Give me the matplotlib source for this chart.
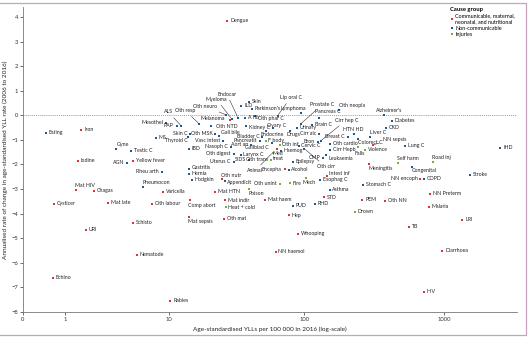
import numpy as np
import matplotlib.pyplot as plt
from matplotlib.lines import Line2D
from matplotlib.patches import Rectangle

plt.rcParams['font.family'] = ['Lato', 'DejaVu Sans']

# Communicable, maternal, neonatal, and nutritional
comm_names = ['Dengue', 'Iron', 'Iodine', 'Yellow fever', 'Mat HIV', 'Chagas', 'Varicella',
              'Cysticer', 'Mat late', 'Oth labour', 'Schisto', 'URI', 'Nematode', 'Echino',
              'Rabies', 'Whooping', 'NN haemol', 'TB', 'Diarrhoea', 'HIV', 'LRI', 'NN sepsis',
              'Meningitis', 'NN encoph', 'NN Preterm', 'PEM', 'Oth NN', 'Malaria', 'Oth NTD',
              'Oth inf', 'Encepha', 'Oth nutr', 'Mat HTN', 'Mat indir', 'Comp abort',
              'Mat sepsis', 'Oth mat', 'Mat haem', 'Hep', 'STD', 'Intest inf']
comm_yll = [27.5, 1.6, 1.45, 5.1, 1.4, 2.2, 9.0,
            0.66, 3.05, 7.3, 5.1, 1.8, 5.5, 0.64,
            10.2, 90, 62, 560, 970, 720, 1345, 310,
            290, 675, 795, 260, 378, 780, 28.6,
            63, 72, 25.3, 22.5, 26.4, 14.4,
            14.3, 26, 52, 77, 139, 145]
comm_change = [3.84, -0.59, -1.85, -1.85, -3.03, -3.07, -3.1,
               -3.6, -3.56, -3.6, -4.37, -4.65, -5.67, -6.6,
               -7.54, -4.82, -5.55, -4.53, -5.5, -7.17, -4.25, -1.2,
               -2.0, -2.58, -3.19, -3.43, -3.48, -3.72, -0.2,
               -1.36, -2.19, -2.6, -3.1, -3.46, -3.46,
               -4.14, -4.2, -3.43, -4.07, -3.33, -2.46]

# Non-communicable
ncd_names = ['Eating', 'Gyne', 'Testic C', 'AGN', 'Rheu arth', 'Pneumocon', 'Mesothel', 'MS',
             'PAP', 'ALS', 'Oth resp', 'Skin C', 'Thyroid C', 'IBD', 'Oth MSK', 'Gall bile',
             'Vasc intest', 'Melanoma', 'Oth neuro', 'Myeloma', 'Endocar', 'ILD', 'Skin',
             "Parkinson's", 'A fib', 'Oth phar C', 'Kidney C', 'Lip oral C', 'Lymphoma',
             'Ovary C', 'Endocrine', 'Bladder C', 'Pancreatit', 'Aort an', 'Nasoph C',
             'Gallblad C', 'Oth digest', 'Larynx C', 'Uterus C', 'SIDS', 'Haemog', 'Bron',
             'Cervic C', 'CMP', 'Oth cirr', 'Leukaemia', 'Cirr Hepb', 'Oth cardio',
             'Cirr hep C', 'Cirr alc', 'Breast C', 'HTN HD', 'Liver C', 'Colorect C',
             'Diabetes', 'CKD', "Alzheimer's", 'Lung C', 'IHD', 'Stroke', 'COPD',
             'Congenital', 'Stomach C', 'Asthma', 'RHD', 'PUD', 'Esophag C', 'Epilepsy',
             'Alcohol', 'Oth neopla', 'Prostate C', 'Urinary', 'Pancreas C', 'Brain C',
             'Drugs', 'Appendicit', 'Gastritis', 'Hernia', 'Hodgkin']
ncd_yll = [0.46, 3.6, 4.9, 4.5, 8.7, 6.2, 9.5, 7.8,
           11.4, 12.4, 17, 14.6, 14, 14.1, 22.5, 24,
           25.8, 21, 27, 29.6, 33, 35, 40,
           41.5, 37, 44, 38, 64, 94,
           59, 52.5, 49, 47.5, 40.8, 29.1,
           58, 30.6, 34.5, 30.6, 39.5, 67.5, 125,
           91, 136, 100, 143, 153, 153,
           131, 127, 205, 226, 295, 242,
           424, 384, 372, 525, 2510, 1534, 720,
           590, 263, 152, 119, 82.5, 129, 82.5,
           77, 177, 94, 88, 127, 113,
           78.4, 26.3, 14.3, 14.1, 15]
ncd_change = [-0.71, -1.36, -1.44, -1.93, -2.3, -2.9, -0.3, -0.91,
              -0.43, -0.43, -0.35, -0.75, -0.87, -1.36, -0.75, -0.83,
              -1.04, -0.43, 0.02, -0.14, -0.1, 0.39, 0.55,
              0.26, -0.1, -0.02, -0.43, -0.02, 0.1,
              -0.51, -0.63, -0.87, -1.04, -1.2, -1.28,
              -1.12, -1.56, -1.6, -1.89, -1.81, -1.44, -1.08,
              -1.24, -1.73, -1.36, -1.61, -1.4, -1.16,
              -1.04, -0.75, -0.87, -0.75, -0.87, -0.96,
              -0.22, -0.51, 0.02, -1.24, -1.32, -2.42, -2.58,
              -2.09, -2.83, -3.03, -3.6, -3.68, -2.62, -1.89,
              -2.22, 0.22, -0.35, -0.51, -0.1, -0.39,
              -0.63, -2.66, -2.19, -2.38, -2.62]

# Injuries
inj_names = ['Violence', 'Falls', 'Self harm', 'Road inj', 'Drown', 'Animal', 'Med treat',
             'F body', 'Fire', 'Mech', 'Oth unint', 'Poison', 'Heat + cold', 'Oth trans']
inj_yll = [272, 243, 468, 834, 230, 59, 66.4, 52.5, 79, 103, 66.4, 39.7, 26.7, 57]
inj_change = [-1.4, -1.28, -1.93, -1.89, -3.92, -1.52, -1.2, -1.04, -2.76, -2.55, -2.78,
              -2.99, -3.73, -1.81]

x_ticks = [0, 1, 10, 100, 1000]
y_ticks = list(range(-8, 5))

# label placement: (dx, dy in points, ha, leader line)
L = (-2, 0, 'right', False)
place = {
    'Gyne': (0.5, 3, 'left', False), 'Mat HIV': (-1, 3, 'left', False),
    'Pneumocon': (-0.5, 3, 'left', False), 'AGN': L, 'Rheu arth': L, 'Mesothel': L, 'PAP': L,
    'ALS': (-6, 10, 'right', True), 'Oth resp': (-10, 9.5, 'center', True),
    'Oth neuro': (-6.5, 6, 'right', True), 'Myeloma': (-3, 14, 'right', True),
    'Endocar': (-8, 17, 'center', True), 'Melanoma': (1, 5.5, 'center', False),
    'Oth NTD': (-2, -4.3, 'center', False), 'Skin C': L, 'Thyroid C': (0, -2.5, 'right', False),
    'Oth MSK': L, 'Vasc intest': L, 'Oth phar C': (2, -2.3, 'left', False),
    'Kidney C': (2, -1, 'left', False), 'Gall bile': (1.5, 2.5, 'left', False),
    'Lip oral C': (1.5, 13, 'left', True), 'Lymphoma': (-5.5, 3, 'center', False),
    'Prostate C': (7, 14, 'left', True), 'Pancreas C': (-3, 4.5, 'left', False),
    'Oth neopla': (0, 3, 'left', False), 'Drugs': (2.5, -3, 'center', False),
    'Ovary C': (3, 1.8, 'center', False), 'Endocrine': (5, -2.8, 'center', False),
    'Bladder C': (-1.2, 0, 'right', False), 'Pancreatit': L, 'Aort an': L, 'Nasoph C': L,
    'Gallblad C': (-2, -3.6, 'right', False), 'Oth inf': (4, 3, 'left', False),
    'Med treat': (-1, -8, 'center', False), 'Animal': (-7, -13, 'right', True),
    'Oth digest': L, 'Uterus C': L, 'SIDS': L, 'Oth trans': L, 'Bron': L, 'CMP': L,
    'Oth cirr': (9, -13, 'left', True), 'Cirr alc': L, 'Cirr hep C': (10, 15, 'left', True),
    'Breast C': L, 'HTN HD': (0, 3.2, 'center', False), 'Cirr Hepb': (2, 0, 'left', False),
    'Leukaemia': (2, -2.5, 'left', False),
    'Liver C': (0, 3, 'left', False), 'Colorect C': (0, -2.5, 'left', False),
    'NN sepsis': (7, 4, 'left', True), 'Falls': (1, -4.5, 'center', False),
    "Alzheimer's": (4, 3, 'center', False), 'NN encoph': L,
    'Congenital': (0, -3, 'left', False), 'Meningitis': (0, -3, 'left', False),
    'Self harm': (-1, 3, 'left', False), 'Road inj': (-1, 3, 'left', False),
    'Encepha': L, 'Intest inf': (1.5, 2, 'left', False), 'Mech': (2, -3, 'center', False),
    'Oth unint': L, 'Poison': (0, -3, 'left', False), 'Comp abort': (-1, -3.5, 'left', False),
    'Mat sepsis': (-1, -3.5, 'left', False), 'Oth nutr': (-1, 2.8, 'left', False),
    'Appendicit': (1.5, -1.5, 'left', False), 'Gastritis': (1.5, 1, 'left', False),
}

red = '#e2322b'
blue = '#1d5b8f'
green = '#6db33f'

fig = plt.figure(figsize=(5.3, 3.37), dpi=100)
fig.patch.set_facecolor('white')
ax = fig.add_axes([0.0434, 0.074, 0.932, 0.905])

ax.set_xscale('function', functions=(lambda v: np.log10(np.clip(v, 0, None) + 1),
                                     lambda v: 10 ** v - 1))
ax.set_xlim(0, 3300)
ax.set_ylim(-8, 4.4)

ax.axhline(0, color='#777777', lw=0.5, ls=(0, (1.5, 1.5)), zorder=1)

for names, xs, ys, col in [(comm_names, comm_yll, comm_change, red),
                           (ncd_names, ncd_yll, ncd_change, blue),
                           (inj_names, inj_yll, inj_change, green)]:
    ax.scatter(xs, ys, s=3.5, marker='s', color=col, lw=0, zorder=3)
    for n, x, y in zip(names, xs, ys):
        dx, dy, ha, leader = place.get(n, (2, 0, 'left', False))
        kw = {}
        if leader:
            kw['arrowprops'] = dict(arrowstyle='-', lw=0.4, color='#333333',
                                    shrinkA=0.5, shrinkB=1)
        ax.annotate(n.replace('Med treat', 'Med\ntreat'), (x, y), xytext=(dx, dy),
                    textcoords='offset points', ha=ha, va='center', fontsize=3.8,
                    color='#222222', linespacing=0.9, zorder=4, **kw)

ax.set_xticks(x_ticks)
ax.set_xticklabels([str(t) for t in x_ticks])
ax.set_yticks(y_ticks)
ax.minorticks_off()
ax.tick_params(labelsize=4.2, length=2, width=0.5, pad=1.5, colors='#333333')
for s in ['top', 'right']:
    ax.spines[s].set_visible(False)
for s in ['left', 'bottom']:
    ax.spines[s].set_color('#777777')
    ax.spines[s].set_linewidth(0.6)

ax.set_xlabel('Age-standardised YLLs per 100 000 in 2016 (log-scale)', fontsize=4.6,
              labelpad=3, color='#222222')
ax.set_ylabel('Annualised rate of change in age-standardised YLL rate (2006 to 2016)',
              fontsize=4.6, labelpad=2, color='#222222')

handles = [Line2D([], [], marker='s', ls='', markersize=1.8, color=c, markeredgewidth=0)
           for c in (red, blue, green)]
leg = ax.legend(handles, ['Communicable, maternal,\nneonatal, and nutritional',
                          'Non-communicable', 'Injuries'],
                title='Cause group', loc='upper left', bbox_to_anchor=(0.865, 1.0),
                frameon=False, fontsize=3.9, handlelength=0.6, handletextpad=0.3,
                labelspacing=0.25, borderpad=0, borderaxespad=0, alignment='left',
                title_fontproperties={'weight': 'bold', 'size': 4.2})

# thin frame round the figure
fig.add_artist(Rectangle((-0.01, 0.005), 1.003, 0.986, transform=fig.transFigure,
                         fill=False, ec='#c9a1bb', lw=0.9))

fig.savefig('out.png', dpi=100)
